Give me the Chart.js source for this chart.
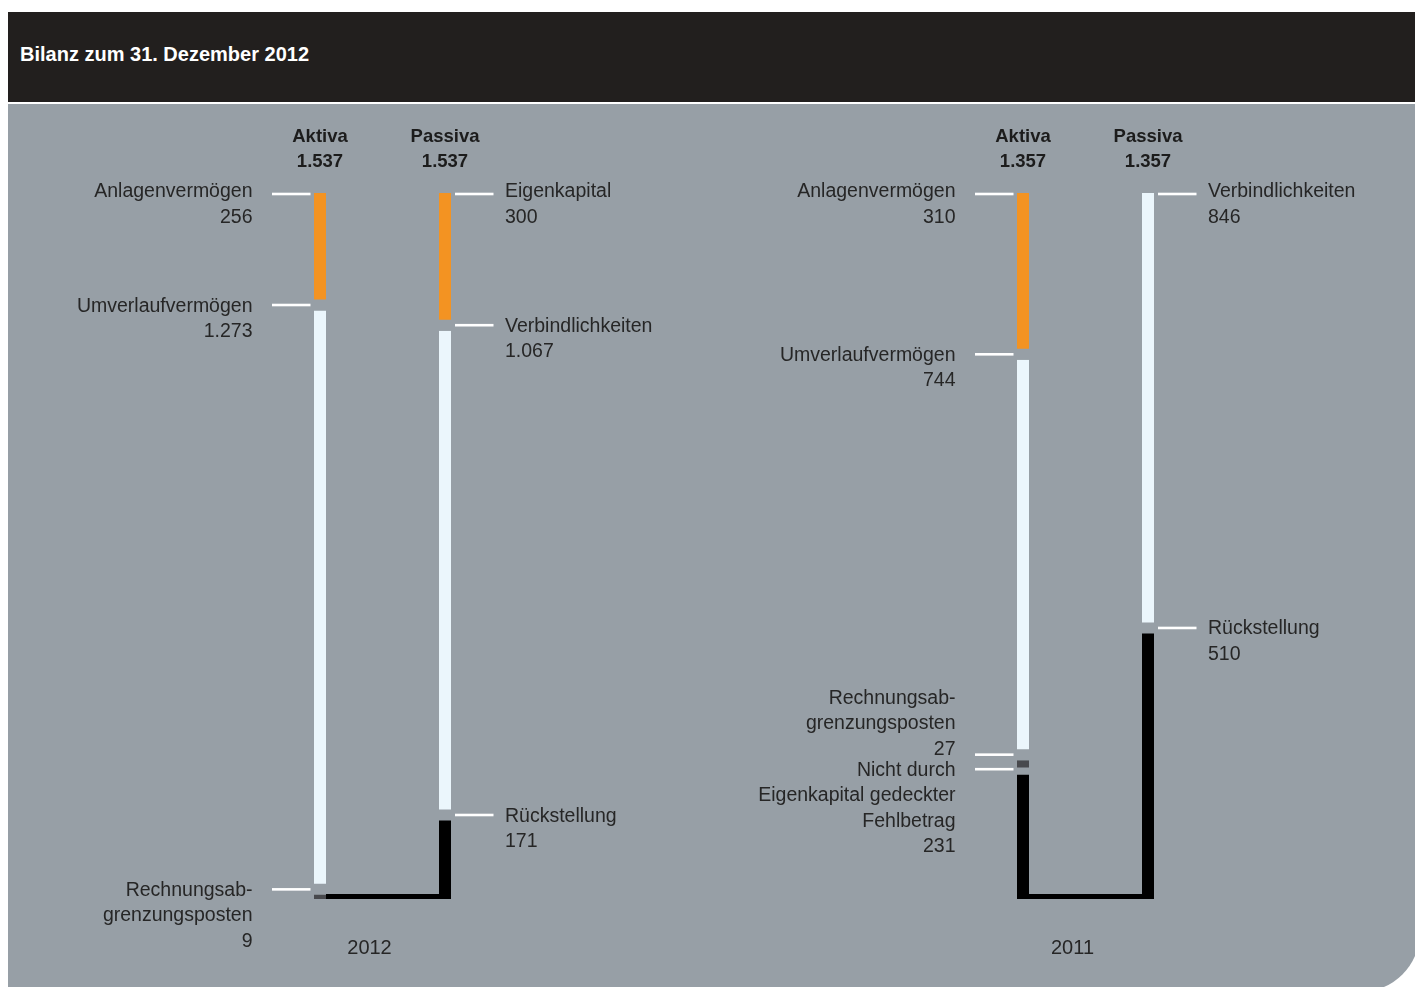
<!DOCTYPE html>
<html lang="de">
<head>
<meta charset="utf-8">
<title>Bilanz zum 31. Dezember 2012</title>
<script src="https://cdn.jsdelivr.net/npm/chart.js@4.4.1/dist/chart.umd.min.js"></script>
<style>
  html, body { margin: 0; padding: 0; background: #fff; overflow: hidden; }
  body { width: 1415px; height: 987px; position: relative; font-family: "Liberation Sans", Arial, sans-serif; }
  #header { position: absolute; left: 8px; top: 12px; width: 1407px; height: 90px; background: #221f1e; }
  #title { position: absolute; left: 12px; top: 32px; line-height: 20px; font-size: 20px; font-weight: bold; color: #fff; }
  #panel { position: absolute; left: 8px; top: 104px; width: 1412px; height: 888px; background: #979fa6; border-bottom-right-radius: 60px; }
  canvas { position: absolute; top: 104px; }
  #c2012 { left: 8px; }
  #c2011 { left: 708px; }
</style>
</head>
<body>
<div id="header"><div id="title">Bilanz zum 31. Dezember 2012</div></div>
<div id="panel"></div>
<canvas id="c2012" width="700" height="883" style="width:700px;height:883px"></canvas>
<canvas id="c2011" width="707" height="883" style="width:707px;height:883px"></canvas>
<script>
// --- data (values in Mio., as printed) ---
const columns = ['Aktiva', 'Passiva'];
const years = ['2012', '2011'];

const totals2012 = [1537, 1537];
const aktiva2012Names = [['Anlagenvermögen'], ['Umverlaufvermögen'], ['Rechnungsab-', 'grenzungsposten']];
const aktiva2012Values = [256, 1273, 9];
const passiva2012Names = [['Eigenkapital'], ['Verbindlichkeiten'], ['Rückstellung']];
const passiva2012Values = [300, 1067, 171];

const totals2011 = [1357, 1357];
const aktiva2011Names = [['Anlagenvermögen'], ['Umverlaufvermögen'], ['Rechnungsab-', 'grenzungsposten'], ['Nicht durch', 'Eigenkapital gedeckter', 'Fehlbetrag']];
const aktiva2011Values = [310, 744, 27, 231];
const passiva2011Names = [['Verbindlichkeiten'], ['Rückstellung']];
const passiva2011Values = [846, 510];

// --- styles ---
const COLORS = {
    'Anlagenvermögen': '#f39322',
    'Eigenkapital': '#f39322',
    'Umverlaufvermögen': '#ebf6fc',
    'Verbindlichkeiten': '#ebf6fc',
    'Rechnungsab-': '#48494d',
    'Rückstellung': '#000000',
    'Nicht durch': '#000000'
};
const FONT = '"Liberation Sans", Arial, sans-serif';
const GAP = 11;        // white-space between segments
const LINE_H = 25.5;

function fmtDe(n) {
    return String(n).replace(/\B(?=(\d{3})+(?!\d))/g, '.');
}

function makeDatasets(names, values, col) {
    const axis = col === 0 ? 'ya' : 'yp';
    return values.map((v, i) => ({
        label: names[i].join(' '),
        data: col === 0 ? [v, null] : [null, v],
        yAxisID: axis,
        stack: 's',
        backgroundColor: COLORS[names[i][0]],
        borderColor: 'rgba(0,0,0,0)',
        borderWidth: i < values.length - 1 ? { top: 0, bottom: GAP, left: 0, right: 0 } : 0,
        borderSkipped: false,
        inflateAmount: 0,
        barThickness: 12,
        // extra info for the label plugin
        nameLines: names[i],
        rawValue: v,
        column: col,
        itemIndex: i
    }));
}

const bilanzLabels = {
    id: 'bilanzLabels',
    afterDatasetsDraw(chart, args, opts) {
        const ctx = chart.ctx;
        const area = chart.chartArea;
        const cols = [[], []];
        chart.data.datasets.forEach((ds, di) => {
            const el = chart.getDatasetMeta(di).data[ds.column];
            const p = el.getProps(['x', 'y', 'base', 'width'], true);
            const top = Math.min(p.y, p.base);
            const tick = ds.itemIndex === 0 ? top + 1 : top - GAP / 2;
            cols[ds.column].push({ ds, x: p.x, w: p.width, tick });
        });

        ctx.save();
        // connector at the bottom
        const a = cols[0][0], pv = cols[1][0];
        ctx.fillStyle = '#000';
        ctx.fillRect(a.x + a.w / 2, area.bottom - 5, (pv.x - pv.w / 2) - (a.x + a.w / 2), 5);

        cols.forEach((items, c) => {
            items.forEach((it, k) => {
                const lines = it.ds.nameLines.concat([fmtDe(it.ds.rawValue)]);
                // white tick
                ctx.fillStyle = '#ffffff';
                if (c === 0) ctx.fillRect(it.x - it.w / 2 - 42, it.tick - 1.3, 38.5, 2.6);
                else ctx.fillRect(it.x + it.w / 2 + 4, it.tick - 1.3, 38.5, 2.6);

                ctx.font = '19.5px ' + FONT;
                ctx.fillStyle = '#262626';
                ctx.textAlign = c === 0 ? 'right' : 'left';
                ctx.textBaseline = 'alphabetic';
                const tx = c === 0 ? it.x - it.w / 2 - 61.5 : it.x + it.w / 2 + 54;
                let first = it.tick + (k === 0 ? 3 : 6.5);
                const next = items[k + 1];
                const lastBase = first + (lines.length - 1) * LINE_H;
                if (next && lastBase + 6 > next.tick - 8) {
                    // not enough room below: stack the label above the tick
                    first = it.tick - (lines.length - 1) * LINE_H;
                }
                lines.forEach((ln, li) => ctx.fillText(ln, tx, first + li * LINE_H));
            });

            // column header
            const x = items[0].x;
            ctx.font = 'bold 18.5px ' + FONT;
            ctx.fillStyle = '#1c1c1c';
            ctx.textAlign = 'center';
            ctx.fillText(columns[c], x, area.top - 51);
            ctx.fillText(fmtDe(opts.totals[c]), x, area.top - 26);
        });

        // year
        ctx.font = '20px ' + FONT;
        ctx.fillStyle = '#262626';
        ctx.textAlign = 'center';
        ctx.fillText(opts.year, (a.x + pv.x) / 2 - 13, area.bottom + 55);
        ctx.restore();
    }
};

function buildPanel(canvasId, aNames, aValues, pNames, pValues, totals, year, padLeft, padRight) {
    const sum = arr => arr.reduce((s, v) => s + v, 0);
    const yAxis = max => ({ type: 'linear', display: false, stacked: true, reverse: true, min: 0, max: max, grid: { display: false } });
    return new Chart(document.getElementById(canvasId), {
        type: 'bar',
        data: {
            labels: columns,
            datasets: makeDatasets(aNames, aValues, 0).concat(makeDatasets(pNames, pValues, 1))
        },
        options: {
            responsive: false,
            animation: false,
            events: [],
            layout: { padding: { left: padLeft, right: padRight, top: 89, bottom: 88 } },
            scales: {
                x: { type: 'category', display: false, stacked: true, offset: true, grid: { display: false } },
                ya: yAxis(sum(aValues)),
                yp: yAxis(sum(pValues))
            },
            plugins: {
                legend: { display: false },
                tooltip: { enabled: false },
                bilanzLabels: { totals: totals, year: year }
            }
        },
        plugins: [bilanzLabels]
    });
}

buildPanel('c2012', aktiva2012Names, aktiva2012Values, passiva2012Names, passiva2012Values, totals2012, years[0], 249.5, 200.5);
buildPanel('c2011', aktiva2011Names, aktiva2011Values, passiva2011Names, passiva2011Values, totals2011, years[1], 252.5, 204.5);
</script>
</body>
</html>
